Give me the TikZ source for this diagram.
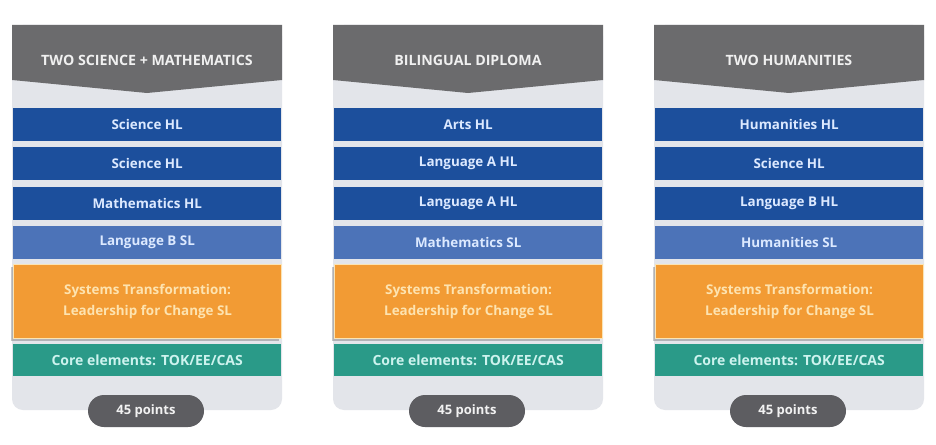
\documentclass[tikz,border=0pt]{standalone}
\usepackage{fontspec}
\setmainfont{Open Sans}
\usetikzlibrary{shadows}
\definecolor{hdrgray}{HTML}{6B6B6D}
\definecolor{panelgray}{HTML}{E3E5EA}
\definecolor{bluehl}{HTML}{1C4F9C}
\definecolor{bluesl}{HTML}{4C73B8}
\definecolor{orangebox}{HTML}{F29B34}
\definecolor{tealbox}{HTML}{2A9A88}
\definecolor{pillgray}{HTML}{5D5D61}
\definecolor{bluetext}{HTML}{DCE9FF}
\definecolor{orangetext}{HTML}{FDE3B0}
\definecolor{tealtext}{HTML}{CDF3EE}
\definecolor{orangeedge}{HTML}{FBE4B4}
\begin{document}
\begin{tikzpicture}[x=1pt,y=-1pt,
  boxbase/.style={anchor=north west, minimum width=268pt, minimum height=33pt, inner sep=0pt, font=\fontsize{13.4}{15}\selectfont\bfseries},
  hlbox/.style={boxbase, fill=bluehl, text=bluetext},
  slbox/.style={boxbase, fill=bluesl, text=bluetext},
  stbox/.style={boxbase, minimum height=74pt, fill=orangebox, draw=orangeedge, line width=1.2pt, text=orangetext, align=center,
     font=\fontsize{13.4}{21}\selectfont\bfseries,
     general shadow={shadow xshift=-3pt, shadow yshift=-2pt, fill=black, opacity=.22}},
  corebox/.style={boxbase, minimum height=32pt, fill=tealbox, text=tealtext, font=\fontsize{14}{15}\selectfont\bfseries},
  hdrtext/.style={text=white!94!black, font=\fontsize{14.2}{15}\selectfont\bfseries},
  pill/.style={fill=pillgray, text=white!95!black, minimum width=116pt, minimum height=32pt, rounded corners=16pt, inner sep=0pt, font=\fontsize{13}{15}\selectfont\bfseries}
]
\useasboundingbox[fill=white] (0,0) rectangle (936,444);
\foreach \i/\x/\title/\ta/\tb/\tc/\td in {
  1/12/{TWO SCIENCE + MATHEMATICS}/{Science HL}/{Science HL}/{Mathematics HL}/{Language B SL},
  2/333/{BILINGUAL DIPLOMA}/{Arts HL}/{Language A HL}/{Language A HL}/{Mathematics SL},
  3/654/{TWO HUMANITIES}/{Humanities HL}/{Science HL}/{Language B HL}/{Humanities SL}} {
  \fill[panelgray, rounded corners=11pt] (\x,25) rectangle (\x+270,410);
  \fill[hdrgray] (\x,25) -- (\x+270,25) -- (\x+270,80) -- (\x+135,93) -- (\x,80) -- cycle;
  \node[hdrtext] (title\i) at (\x+135,60) {\title};
  \node[hlbox] (a\i) at (\x+1,108) {\ta};
  \node[hlbox] (b\i) at (\x+1,147) {\tb};
  \node[hlbox] (c\i) at (\x+1,187) {\tc};
  \node[slbox] (d\i) at (\x+1,226) {\td};
  \node[stbox] (st\i) at (\x+1,264) {Systems Transformation:\\Leadership for Change SL};
  \node[corebox] (core\i) at (\x+1,344) {Core elements: TOK/EE/CAS};
  \node[pill] (pts\i) at (\x+134,411) {45 points};
}
\end{tikzpicture}
\end{document}
